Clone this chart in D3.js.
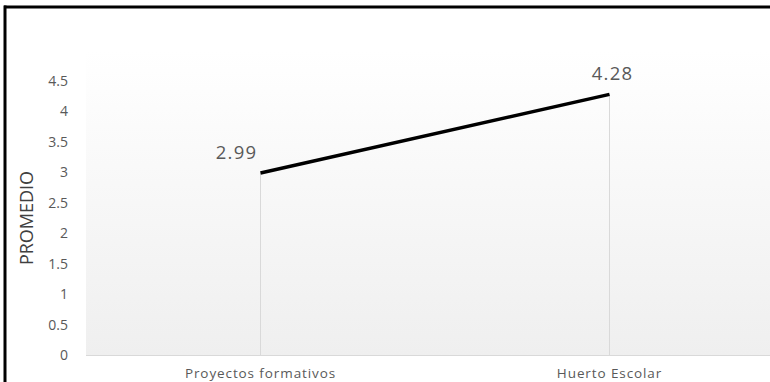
<!DOCTYPE html>
<html><head><meta charset="utf-8">
<script src="https://cdn.jsdelivr.net/npm/d3@7"></script>
<style>
html,body{margin:0;padding:0;background:#fff;}
svg{display:block;}
text{font-family:"Open Sans",sans-serif;}
</style></head>
<body>
<svg id="chart" width="770" height="382"></svg>
<script>
const categories = ["Proyectos formativos", "Huerto Escolar"];
const values = [2.99, 4.28];
const valueLabels = ["2.99", "4.28"];
const yTicks = [0, 0.5, 1, 1.5, 2, 2.5, 3, 3.5, 4, 4.5];
const yTitle = "PROMEDIO";

const svg = d3.select("#chart");
const W = 770, H = 382;
const plot = {left: 86, right: 784, top: 81, bottom: 355};

const x = d3.scaleBand().domain(categories).range([plot.left, plot.right]).paddingInner(0).paddingOuter(0);
const y = d3.scaleLinear().domain([0, 4.5]).range([plot.bottom, plot.top]);

const defs = svg.append("defs");
const grad = defs.append("linearGradient").attr("id","bg").attr("x1",0).attr("y1",0).attr("x2",0).attr("y2",1);
grad.append("stop").attr("offset","0%").attr("stop-color","#ffffff");
grad.append("stop").attr("offset","100%").attr("stop-color","#efefef");

svg.append("rect").attr("x",plot.left).attr("y",plot.top-30)
  .attr("width",plot.right-plot.left).attr("height",plot.bottom-plot.top+30)
  .attr("fill","url(#bg)");

// axis line
svg.append("line").attr("x1",plot.left).attr("x2",W).attr("y1",plot.bottom+0.5).attr("y2",plot.bottom+0.5)
  .attr("stroke","#d9d9d9").attr("stroke-width",1);

// y axis labels
const yAxis = d3.axisLeft(y).tickValues(yTicks).tickSize(0).tickPadding(0).tickFormat(d => String(d));
const ga = svg.append("g").attr("transform",`translate(68,0)`).call(yAxis);
ga.select(".domain").remove();
ga.selectAll("text").attr("font-size",14).attr("fill","#595959").attr("font-family","'Open Sans',sans-serif");

// x axis labels
const xAxis = d3.axisBottom(x).tickSize(0).tickPadding(0);
const gx = svg.append("g").attr("transform",`translate(0,${plot.bottom})`).call(xAxis);
gx.select(".domain").remove();
gx.selectAll("text").attr("font-size",13.5).attr("fill","#595959").attr("letter-spacing","0.9px")
  .attr("dy",null).attr("y",22.5).attr("font-family","'Open Sans',sans-serif");

// drop lines
const pts = categories.map((c,i)=>({c, v: values[i], lab: valueLabels[i]}));
svg.selectAll("line.drop").data(pts).enter().append("line").attr("class","drop")
  .attr("x1",d=>x(d.c)+x.bandwidth()/2).attr("x2",d=>x(d.c)+x.bandwidth()/2)
  .attr("y1",d=>y(d.v)).attr("y2",plot.bottom)
  .attr("stroke","#d9d9d9").attr("stroke-width",1);

// line
svg.append("path").datum(pts)
  .attr("d", d3.line().x(d=>x(d.c)+x.bandwidth()/2).y(d=>y(d.v)))
  .attr("fill","none").attr("stroke","#000").attr("stroke-width",3.5);

// data labels
svg.selectAll("text.dl").data(pts).enter().append("text").attr("class","dl")
  .attr("x",(d,i)=>x(d.c)+x.bandwidth()/2 + (i===0?-24:3))
  .attr("y",d=>y(d.v)-14)
  .attr("text-anchor","middle").attr("font-size",18.5).attr("letter-spacing","1.2px")
  .attr("fill","#595959").text(d=>d.lab);

// y title
svg.append("text").attr("transform","translate(33,218) rotate(-90)")
  .attr("text-anchor","middle").attr("font-size",18).attr("fill","#404040").text(yTitle);

// frame
svg.append("line").attr("x1",4).attr("x2",W).attr("y1",7).attr("y2",7).attr("stroke","#000").attr("stroke-width",3);
svg.append("line").attr("x1",5).attr("x2",5).attr("y1",5.5).attr("y2",H).attr("stroke","#000").attr("stroke-width",3);
</script>
</body></html>
